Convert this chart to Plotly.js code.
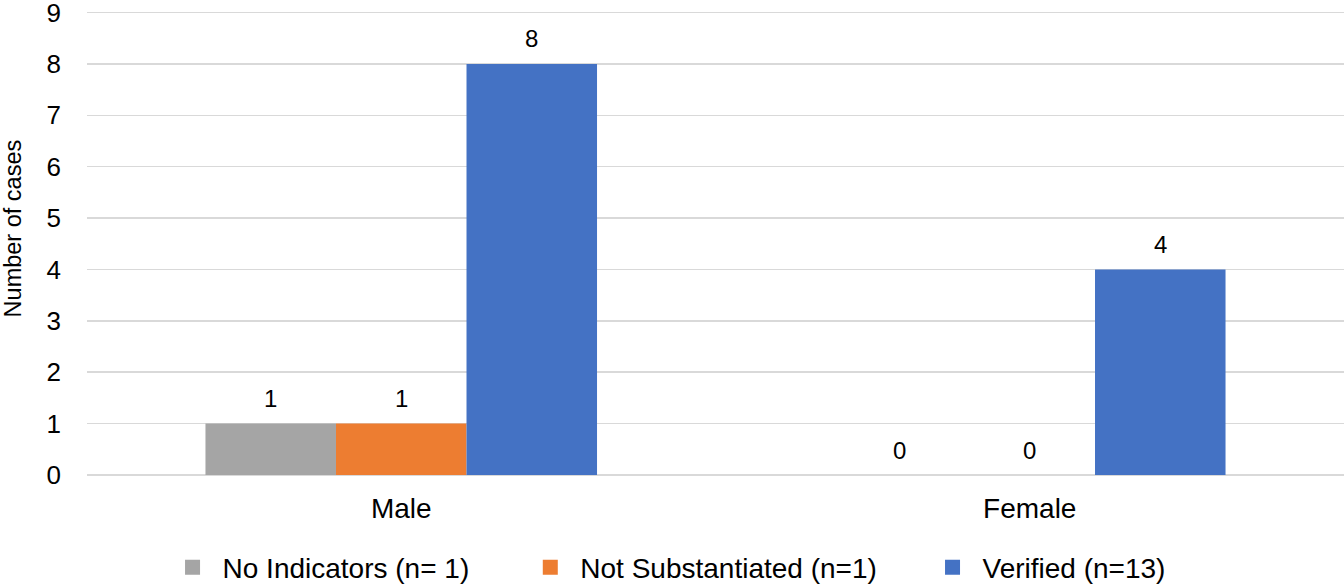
<!DOCTYPE html>
<html><head><meta charset="utf-8">
<script src="https://cdn.plot.ly/plotly-3.0.1.min.js"></script>
<style>html,body{margin:0;padding:0;background:#fff}#c{width:1344px;height:587px}</style>
</head><body><div id="c"></div>
<script>
const categories = ["Male", "Female"];
const seriesNames = ["No Indicators (n= 1)", "Not Substantiated (n=1)", "Verified (n=13)"];
const noIndicators = [1, 0];
const notSubstantiated = [1, 0];
const verified = [8, 4];
const colors = ["#A5A5A5", "#ED7D31", "#4472C4"];
const yTicks = [0,1,2,3,4,5,6,7,8,9];

const font = "Liberation Sans, Arial, sans-serif";
const W = 1344, H = 587;
const margin = {l: 87, r: 0, t: 10, b: 112, autoexpand: false};
const bargap = 0.377;
const vals = [noIndicators, notSubstantiated, verified];
const legendIds = ["legend", "legend2", "legend3"];
const legendX = [0.0601, 0.3447, 0.6647];

const traces = vals.map((v, i) => ({
  type: "bar", x: categories, y: v, name: seriesNames[i], showlegend: false,
  marker: {color: colors[i]}, hoverinfo: "none"
}));
// legend keys (square swatches)
vals.forEach((v, i) => traces.push({
  type: "scatter", mode: "markers", x: [null], y: [null], name: seriesNames[i],
  legend: legendIds[i], showlegend: true,
  marker: {symbol: "square", size: 15, color: colors[i]}, hoverinfo: "none"
}));

// value labels placed above each bar through the axis scales
const plotW = W - margin.l - margin.r;
const barW = (plotW / categories.length) * (1 - bargap) / vals.length;
const annotations = [];
vals.forEach((v, i) => v.forEach((val, j) => annotations.push({
  x: categories[j], y: val, xref: "x", yref: "y", text: String(val),
  showarrow: false, xanchor: "center", yanchor: "middle",
  xshift: (i - (vals.length - 1) / 2) * barW, yshift: 25,
  font: {family: font, size: 24, color: "#000"}
})));
annotations.push({text: "Number of cases", xref: "paper", yref: "paper",
  x: -0.059, y: 0.53, xanchor: "center", yanchor: "middle", textangle: -90,
  showarrow: false, font: {family: font, size: 23.5, color: "#000"}});

const legendBase = {orientation: "h", xanchor: "left", y: -0.199, yanchor: "middle",
  font: {size: 28, color: "#000", family: font}, itemwidth: 50, bgcolor: "rgba(0,0,0,0)"};

const layout = {
  width: W, height: H, margin: margin,
  paper_bgcolor: "#fff", plot_bgcolor: "#fff",
  barmode: "group", bargap: bargap, bargroupgap: 0,
  font: {family: font, size: 26, color: "#000"},
  xaxis: {tickfont: {size: 28, color: "#000"}, showline: false, ticks: "", ticklabelstandoff: 14},
  yaxis: {range: [0, 9.05], tickvals: yTicks, ticktext: yTicks.map(String),
    tickfont: {size: 26, color: "#000"}, gridcolor: "#d9d9d9", gridwidth: 1.5,
    zeroline: true, zerolinecolor: "#d9d9d9", zerolinewidth: 1.5,
    showline: false, ticks: "", ticklabelstandoff: 25, ticklabeloverflow: "allow"},
  legend: Object.assign({}, legendBase, {x: legendX[0]}),
  legend2: Object.assign({}, legendBase, {x: legendX[1]}),
  legend3: Object.assign({}, legendBase, {x: legendX[2]}),
  annotations: annotations
};
Plotly.newPlot("c", traces, layout, {staticPlot: true});
</script></body></html>
